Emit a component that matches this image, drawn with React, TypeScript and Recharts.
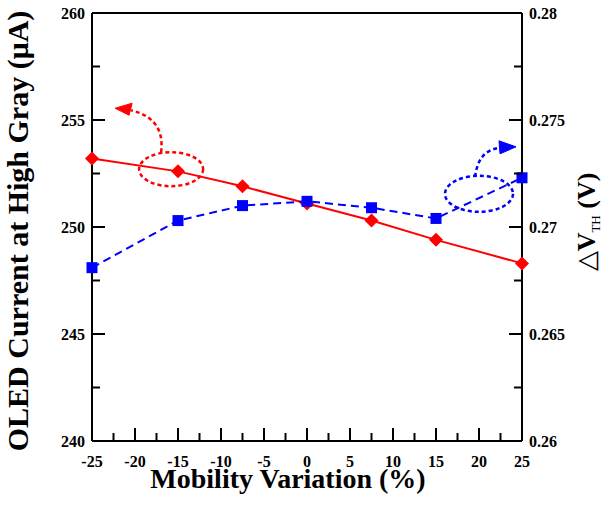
import React from "react";
import {
  LineChart,
  Line,
  XAxis,
  YAxis,
  ReferenceLine,
  ReferenceDot,
} from "recharts";

const mobility = [-25, -15, -7.5, 0, 7.5, 15, 25];
const oledCurrent = [253.2, 252.6, 251.9, 251.1, 250.3, 249.4, 248.3];
const deltaVth = [0.2681, 0.2703, 0.271, 0.2712, 0.2709, 0.2704, 0.2723];

const xMajor = [-25, -20, -15, -10, -5, 0, 5, 10, 15, 20, 25];
const xMinor = [-22.5, -17.5, -12.5, -7.5, -2.5, 2.5, 7.5, 12.5, 17.5, 22.5];
const leftMajor = [240, 245, 250, 255, 260];
const leftMinor = [242.5, 247.5, 252.5, 257.5];
const rightMajor = [0.26, 0.265, 0.27, 0.275, 0.28];
const rightMinor = [0.2625, 0.2675, 0.2725, 0.2775];

const data = mobility.map((m, i) => ({
  m,
  current: oledCurrent[i],
  vth: deltaVth[i],
}));

const FONT = "'Liberation Serif', 'Times New Roman', serif";
const MARGIN_X = 15;
const MARGIN_Y = 7;
const MAJOR_LEN = 13;
const MINOR_LEN = 8;

function BottomTick(props: any) {
  const { x, y, payload } = props;
  const major = xMajor.includes(payload.value);
  const y0 = y - MARGIN_X;
  return (
    <g>
      <line x1={x} x2={x} y1={y0} y2={y0 - (major ? MAJOR_LEN : MINOR_LEN)} stroke="#000" strokeWidth={2} />
      {major && (
        <text x={x} y={y} dy="0.71em" textAnchor="middle" fontFamily={FONT} fontWeight="bold" fontSize={16} fill="#000">
          {payload.value}
        </text>
      )}
    </g>
  );
}

function LeftTick(props: any) {
  const { x, y, payload } = props;
  const major = leftMajor.includes(payload.value);
  const x0 = x + MARGIN_Y;
  return (
    <g>
      <line x1={x0} x2={x0 + (major ? MAJOR_LEN : MINOR_LEN)} y1={y} y2={y} stroke="#000" strokeWidth={2} />
      {major && (
        <text x={x} y={y} dy="0.35em" textAnchor="end" fontFamily={FONT} fontWeight="bold" fontSize={16} fill="#000">
          {payload.value}
        </text>
      )}
    </g>
  );
}

function RightTick(props: any) {
  const { x, y, payload } = props;
  const major = rightMajor.includes(payload.value);
  const x0 = x - MARGIN_Y;
  return (
    <g>
      <line x1={x0} x2={x0 - (major ? MAJOR_LEN : MINOR_LEN)} y1={y} y2={y} stroke="#000" strokeWidth={2} />
      {major && (
        <text x={x} y={y} dy="0.35em" textAnchor="start" fontFamily={FONT} fontWeight="bold" fontSize={16} fill="#000">
          {payload.value}
        </text>
      )}
    </g>
  );
}

function Diamond(props: any) {
  const { cx, cy } = props;
  const r = 7;
  return (
    <polygon
      points={`${cx},${cy - r} ${cx + r},${cy} ${cx},${cy + r} ${cx - r},${cy}`}
      fill="#ff0000"
    />
  );
}

function Square(props: any) {
  const { cx, cy } = props;
  const s = 11;
  return <rect x={cx - s / 2} y={cy - s / 2} width={s} height={s} fill="#0000ff" />;
}

// dotted ellipse + curved arrow, drawn around its anchor point
function RedNote({ cx, cy }: any) {
  return (
    <g transform={`translate(${cx},${cy})`} fill="none" stroke="#ff0000" strokeWidth={2.5} strokeDasharray="4 3">
      <ellipse cx={0} cy={0} rx={32} ry={17} />
      <path d="M -10 -17 C -8 -34 -12 -52 -40 -59" />
      <polygon points="-56,-61 -39,-66 -42,-54" fill="#ff0000" strokeDasharray="none" strokeWidth={1} />
    </g>
  );
}

function BlueNote({ cx, cy }: any) {
  return (
    <g transform={`translate(${cx},${cy})`} fill="none" stroke="#0000ff" strokeWidth={2.5} strokeDasharray="4 3">
      <ellipse cx={0} cy={0} rx={34} ry={18} />
      <path d="M -4 -17 C -2 -30 2 -43 20 -46" />
      <polygon points="37,-47 20,-53 21,-40" fill="#0000ff" strokeDasharray="none" strokeWidth={1} />
    </g>
  );
}

function LeftTitle(props: any) {
  const { viewBox } = props;
  const x = viewBox.x + 28;
  const y = viewBox.y + viewBox.height / 2 + 4;
  return (
    <text x={x} y={y} transform={`rotate(-90, ${x}, ${y})`} textAnchor="middle" fontFamily={FONT} fontWeight="bold" fontSize={30} fill="#000">
      OLED Current at High Gray (μA)
    </text>
  );
}

function RightTitle(props: any) {
  const { viewBox } = props;
  const x = viewBox.x + 73;
  const y = viewBox.y + viewBox.height / 2 - 5;
  return (
    <text x={x} y={y} transform={`rotate(-90, ${x}, ${y})`} textAnchor="middle" fontFamily={FONT} fontWeight="bold" fontSize={26} fill="#000">
      <tspan fontWeight="normal">△</tspan>
      <tspan>V</tspan>
      <tspan fontSize={13} fontWeight="normal" dy={5}>TH</tspan>
      <tspan dy={-5}> (V)</tspan>
    </text>
  );
}

function BottomTitle(props: any) {
  const { viewBox } = props;
  const x = viewBox.x + viewBox.width / 2 - 19;
  const y = viewBox.y + 47;
  return (
    <text x={x} y={y} textAnchor="middle" fontFamily={FONT} fontWeight="bold" fontSize={28} fill="#000">
      Mobility Variation (%)
    </text>
  );
}

export default function App() {
  return (
    <div style={{ width: 605, height: 505, background: "#fff" }}>
      <style>{"body{margin:0}"}</style>
      <LineChart width={605} height={505} data={data} margin={{ top: 13, right: 0, bottom: 0, left: 0 }}>
        <XAxis
          dataKey="m"
          type="number"
          domain={[-25, 25]}
          ticks={[...xMajor, ...xMinor].sort((a, b) => a - b)}
          interval={0}
          height={64}
          tickSize={0}
          tickMargin={MARGIN_X}
          tickLine={false}
          tick={<BottomTick />}
          axisLine={{ stroke: "#000", strokeWidth: 2 }}
          label={{ content: <BottomTitle /> }}
        />
        <YAxis
          yAxisId="left"
          domain={[240, 260]}
          allowDataOverflow
          ticks={[...leftMajor, ...leftMinor].sort((a, b) => a - b)}
          interval={0}
          width={92}
          tickSize={0}
          tickMargin={MARGIN_Y}
          tickLine={false}
          tick={<LeftTick />}
          axisLine={{ stroke: "#000", strokeWidth: 2 }}
          label={{ content: <LeftTitle /> }}
        />
        <YAxis
          yAxisId="right"
          orientation="right"
          domain={[0.26, 0.28]}
          allowDataOverflow
          ticks={[...rightMajor, ...rightMinor].sort((a, b) => a - b)}
          interval={0}
          width={83}
          tickSize={0}
          tickMargin={MARGIN_Y}
          tickLine={false}
          tick={<RightTick />}
          axisLine={{ stroke: "#000", strokeWidth: 2 }}
          label={{ content: <RightTitle /> }}
        />
        <ReferenceLine yAxisId="left" y={260} stroke="#000" strokeWidth={2} />
        <Line
          yAxisId="left"
          dataKey="current"
          stroke="#ff0000"
          strokeWidth={2}
          dot={(p: any) => <Diamond key={`d-${p.index}`} {...p} />}
          isAnimationActive={false}
        />
        <Line
          yAxisId="right"
          dataKey="vth"
          stroke="#0000ff"
          strokeWidth={2}
          strokeDasharray="8 5"
          dot={(p: any) => <Square key={`s-${p.index}`} {...p} />}
          isAnimationActive={false}
        />
        <ReferenceDot
          yAxisId="left"
          x={-15.8}
          y={252.7}
          shape={(p: any) => <RedNote cx={p.cx} cy={p.cy} />}
        />
        <ReferenceDot
          yAxisId="right"
          x={20}
          y={0.27155}
          shape={(p: any) => <BlueNote cx={p.cx} cy={p.cy} />}
        />
      </LineChart>
    </div>
  );
}
